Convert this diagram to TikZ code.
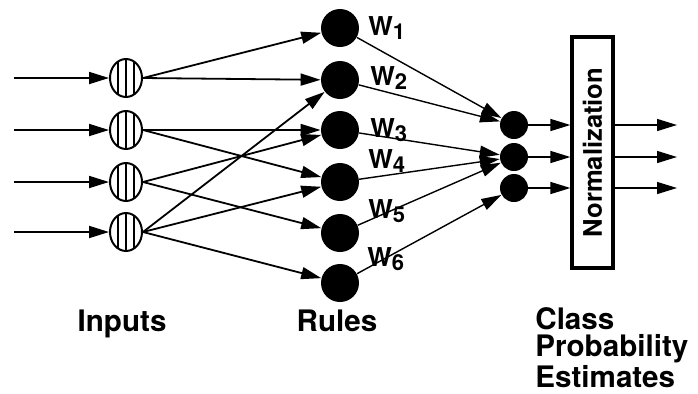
\documentclass[tikz,border=0pt]{standalone}
\usepackage{fontspec}
\setmainfont{TeX Gyre Heros}
\usetikzlibrary{arrows.meta, shapes.geometric}

\tikzset{
	arr/.style = {-{Triangle[length=10pt, width=6pt]}, line width=0.9pt},
	inpnode/.style = {ellipse, draw, line width=1pt, minimum width=16pt, minimum height=19pt, inner sep=0pt,
		path picture = {
			\foreach \dx in {-4,0,4}
				\draw [line width=1.1pt] ([xshift=\dx pt] path picture bounding box.north) -- ([xshift=\dx pt] path picture bounding box.south);
		}},
	rulenode/.style = {circle, fill=black, minimum size=19pt, inner sep=0pt},
	clsnode/.style = {circle, fill=black, minimum size=14pt, inner sep=0pt},
	lbl/.style = {font=\bfseries\fontsize{14.8}{13.75}\selectfont, inner sep=0pt},
	wlbl/.style = {font=\bfseries\fontsize{13}{13}\selectfont, inner sep=0pt, anchor=base west}
}

\newcommand{\wsub}[1]{W\raisebox{-2pt}{\fontsize{11}{11}\selectfont #1}}

\begin{document}
\begin{tikzpicture}[x=0.5pt, y=-0.5pt]
	\useasboundingbox (0,0) rectangle (698,393);
	\def\xin{126};
	\def\xrule{340};
	\def\xcls{514};

	% inputs
	\node [inpnode] (i1) at (\xin,78) {};
	\node [inpnode] (i2) at (\xin,130) {};
	\node [inpnode] (i3) at (\xin,182) {};
	\node [inpnode] (i4) at (\xin,232) {};

	\coordinate (s1) at (14,78);
	\coordinate (s2) at (14,130);
	\coordinate (s3) at (14,182);
	\coordinate (s4) at (14,232);

	% rules
	\node [rulenode] (r1) at (\xrule,28) {};
	\node [rulenode] (r2) at (\xrule,80) {};
	\node [rulenode] (r3) at (\xrule,130) {};
	\node [rulenode] (r4) at (\xrule,182) {};
	\node [rulenode] (r5) at (\xrule,233) {};
	\node [rulenode] (r6) at (\xrule,283) {};

	% classes
	\node [clsnode] (c1) at (\xcls,125) {};
	\node [clsnode] (c2) at (\xcls,157) {};
	\node [clsnode] (c3) at (\xcls,188) {};

	\node [draw, line width=1.6pt, rotate=90, minimum width=115.5pt, minimum height=20.5pt, inner sep=0pt,
		font=\bfseries\fontsize{12.8}{12.8}\selectfont] (nbox) at (592.5,152.5) {Normalization};
	\coordinate (out) at (677,0);

	\begin{scope}[arr]
		\draw (s1) -- (i1);
		\draw (s2) -- (i2);
		\draw (s3) -- (i3);
		\draw (s4) -- (i4);

		\draw (i1.east) -- (r1);
		\draw (i1.east) -- (r2);
		\draw (i2.east) -- (r3);
		\draw (i2.east) -- (r4);
		\draw (i3.east) -- (r3);
		\draw (i3.east) -- (r5);
		\draw (i4.east) -- (r2);
		\draw (i4.east) -- (r4);
		\draw (i4.east) -- (r6);
	\end{scope}

	\begin{scope}[arr, line width=0.7pt]
		\draw (r1) -- (c1);
		\draw (r2) -- (c1);
		\draw (r3) -- (c2);
		\draw (r4) -- (c2);
		\draw (r5) -- (c2);
		\draw (r6) -- (c3);

		\draw (c1) -- (c1 -| nbox.north);
		\draw (c2) -- (c2 -| nbox.north);
		\draw (c3) -- (c3 -| nbox.north);

		\draw (c1 -| nbox.south) -- (c1 -| out);
		\draw (c2 -| nbox.south) -- (c2 -| out);
		\draw (c3 -| nbox.south) -- (c3 -| out);
	\end{scope}

	% weights
	\node [wlbl] (w1) at (368,35) {\wsub{1}};
	\node [wlbl] (w2) at (370,85) {\wsub{2}};
	\node [wlbl] (w3) at (370,137) {\wsub{3}};
	\node [wlbl] (w4) at (368,168) {\wsub{4}};
	\node [wlbl] (w5) at (368,218) {\wsub{5}};
	\node [wlbl] (w6) at (367,266) {\wsub{6}};

	% labels
	\node [lbl, anchor=base] (inputs) at (122,331) {Inputs};
	\node [lbl, anchor=base] (rules) at (337,331) {Rules};
	\node [lbl, anchor=north west, align=left] (cpe) at (535,307) {Class\\Probability\\Estimates};
\end{tikzpicture}
\end{document}
